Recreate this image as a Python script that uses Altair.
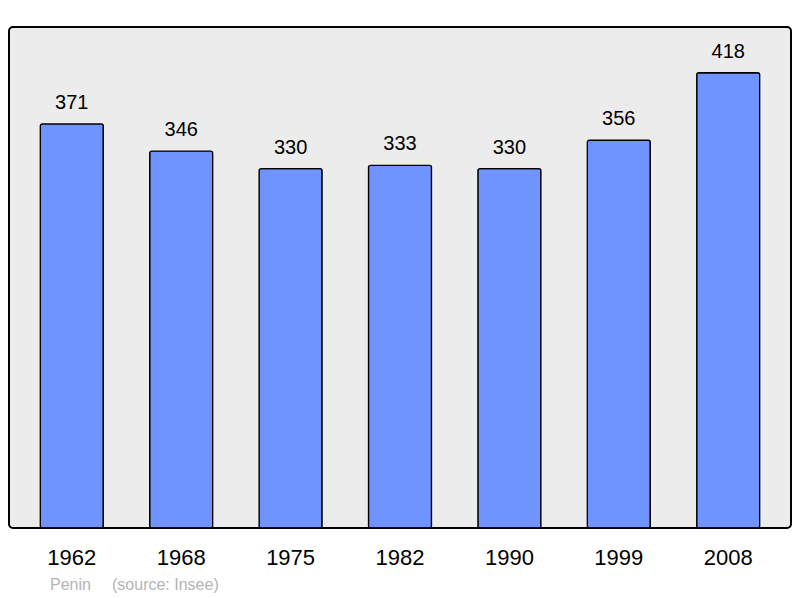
import altair as alt
import pandas as pd

years = ["1962", "1968", "1975", "1982", "1990", "1999", "2008"]
population = [371, 346, 330, 333, 330, 356, 418]
footer_author = "Penin"
footer_source = "(source: Insee)"

df = pd.DataFrame({"year": years, "pop": population})

FONT = "Liberation Sans"

x = alt.X("year:N", sort=years, title=None,
          scale=alt.Scale(paddingInner=0.424, paddingOuter=0.286),
          axis=alt.Axis(labelAngle=0, labelFontSize=22, labelFont=FONT,
                        labelColor="#000000", domain=False, ticks=False,
                        labelBaseline="alphabetic", labelPadding=36))
y = alt.Y("pop:Q", title=None, scale=alt.Scale(domain=[0, 460], nice=False),
          axis=None)

bars = alt.Chart(df).mark_bar(
    color="#7094ff", stroke="#000000", strokeWidth=1.3, cornerRadius=2
).encode(x=x, y=y)

labels = alt.Chart(df).mark_text(
    baseline="alphabetic", dy=-15, fontSize=20, font=FONT, color="#000000"
).encode(x=x, y=y, text="pop:Q")

foot = pd.DataFrame({"t": [footer_author, footer_source], "px": [41, 103]})
footer = alt.Chart(foot).mark_text(
    align="left", baseline="alphabetic", fontSize=16, font=FONT,
    color="#b4b4b4", clip=False
).encode(x=alt.X("px:Q", scale=None), y=alt.value(563), text="t:N")

chart = alt.layer(bars, labels, footer).properties(
    width=782, height=501,
    background="#ffffff",
    autosize=alt.AutoSizeParams(type="none"),
    padding={"left": 1, "top": 19, "right": 1, "bottom": 66},
).configure_view(
    fill="#ececec", stroke="#000000", strokeWidth=2, cornerRadius=4
)

chart.save("out.html", embed_options={"renderer": "svg", "actions": False})
